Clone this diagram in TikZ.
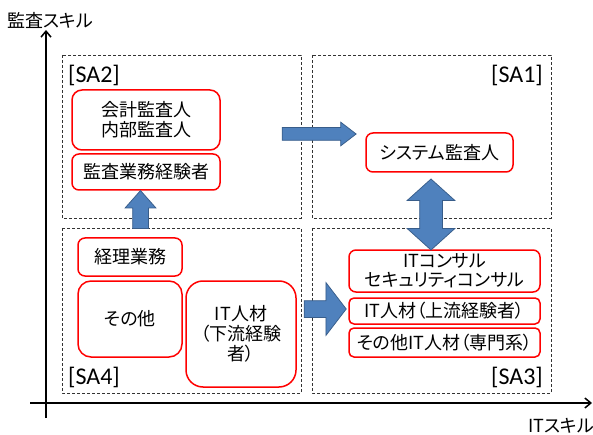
\documentclass[tikz,border=0pt]{standalone}
\usepackage{fontspec}
\setmainfont{Noto Sans CJK JP}[RawFeature=+palt]
\newfontfamily\latinfont{Carlito}
\usetikzlibrary{arrows.meta, shapes.arrows}
\definecolor{boxred}{RGB}{255,0,0}
\definecolor{arrowblue}{RGB}{79,129,189}
\definecolor{arrowedge}{RGB}{56,93,138}

\begin{document}
\begin{tikzpicture}[
  x=1pt, y=-1pt,
  every node/.style={align=center, inner sep=0pt, font=\fontsize{18}{20}\selectfont},
  redbox/.style={draw=boxred, line width=1.5pt, rounded corners=7pt},
  quad/.style={draw=black!80, dash pattern=on 3pt off 2pt, line width=0.8pt},
  salabel/.style={font=\latinfont\fontsize{24}{24}\selectfont},
  blockarrow/.style={fill=arrowblue, draw=arrowedge, line width=0.75pt,
    inner sep=0pt, text height=0pt, text depth=0pt},
  >={Straight Barb[length=6pt,width=10pt]}
]
\useasboundingbox (0,0) rectangle (593,435);

% axes
\coordinate (yfoot) at (46,418);
\coordinate (ytop) at (46,30);
\coordinate (xfoot) at (30,403);
\coordinate (xend) at (592,403);
\draw[->, line width=1.5pt] (yfoot) -- (ytop);
\draw[->, line width=1.5pt] (xfoot) -- (xend);
\node (audskill) at (50,20) {監査スキル};
\node (itskill) at (561,426) {ITスキル};

% quadrants
\draw[quad] (62,55) rectangle (301,218);
\draw[quad] (312,55) rectangle (551,218);
\draw[quad] (62,228) rectangle (301,393);
\draw[quad] (312,228) rectangle (551,393);
\node[salabel, anchor=west] (sa2) at (68,75) {[SA2]};
\node[salabel, anchor=east] (sa1) at (543,75) {[SA1]};
\node[salabel, anchor=west] (sa4) at (68,377) {[SA4]};
\node[salabel, anchor=east] (sa3) at (543,377) {[SA3]};

% SA2
\node[redbox, rounded corners=10pt, minimum width=148pt, minimum height=60pt] (kaikei) at (146,120) {会計監査人\\内部監査人};
\node[redbox, minimum width=148pt, minimum height=36pt] (gyomu) at (146,172) {監査業務経験者};
% SA1
\node[redbox, minimum width=147pt, minimum height=39pt] (sysaud) at (439.5,152.5) {システム監査人};
% SA4
\node[redbox, minimum width=104pt, minimum height=38pt] (keiri) at (130,257) {経理業務};
\node[redbox, rounded corners=13pt, minimum width=104pt, minimum height=76pt] (sonota) at (130,319) {その他};
\node[redbox, rounded corners=17pt, minimum width=110pt, minimum height=106pt] (itlow) at (241,334) {IT人材\\（下流経験\\者）};
% SA3
\node[redbox, font=\fontsize{18}{19}\selectfont, minimum width=191pt, minimum height=42pt] (itcon) at (444.5,271) {ITコンサル\\セキュリティコンサル};
\node[redbox, rounded corners=5pt, minimum width=191pt, minimum height=26pt] (itup) at (444.5,311) {IT人材（上流経験者）};
\node[redbox, rounded corners=5pt, minimum width=191pt, minimum height=29pt] (itspec) at (444.5,342.5) {その他IT人材（専門系）};

% block arrows
\node[blockarrow, single arrow, minimum height=74pt, minimum width=23pt, inner ysep=6pt,
  single arrow head extend=5.5pt, single arrow tip angle=75] (toSA1) at (315,134) {};
\node[blockarrow, single arrow, rotate=90, minimum height=38pt, minimum width=30pt, inner ysep=7.5pt,
  single arrow head extend=7.5pt, single arrow tip angle=83] (toSA2) at (140.5,214) {};
\node[blockarrow, double arrow, rotate=90, minimum height=71pt, minimum width=47pt, inner ysep=11pt,
  double arrow head extend=12.5pt, double arrow tip angle=96] (sa1sa3) at (431,214.5) {};
\node[blockarrow, single arrow, minimum height=42pt, minimum width=52pt, inner ysep=8pt,
  single arrow head extend=18pt, single arrow tip angle=105] (toSA3) at (322,309) {};
\end{tikzpicture}
\end{document}
